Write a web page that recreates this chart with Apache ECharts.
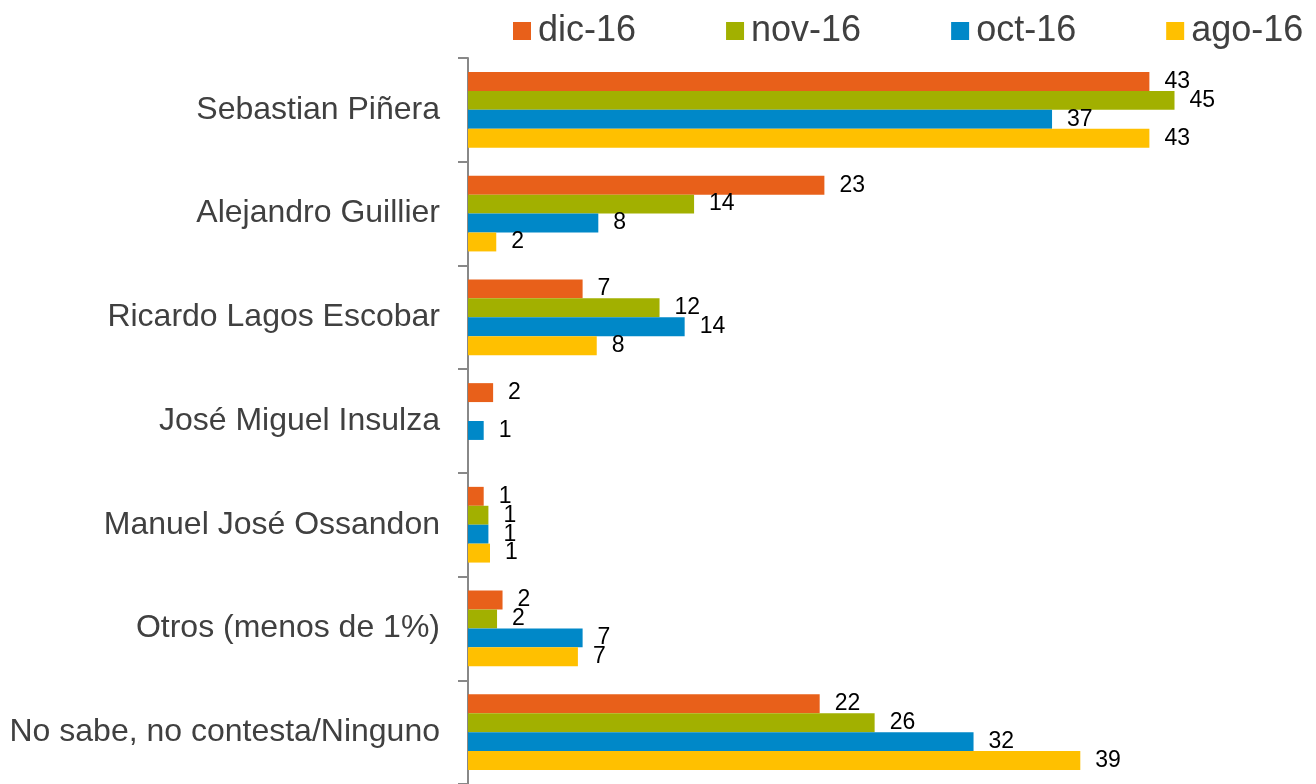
<!DOCTYPE html>
<html>
<head>
<meta charset="utf-8">
<script src="https://cdn.jsdelivr.net/npm/echarts@6/dist/echarts.min.js"></script>
<style>
  html, body { margin: 0; padding: 0; background: #fff; }
  #chart { width: 1316px; height: 784px; }
</style>
</head>
<body>
<div id="chart"></div>
<script>
var categorias = ['Sebastian Piñera', 'Alejandro Guillier', 'Ricardo Lagos Escobar',
  'José Miguel Insulza', 'Manuel José Ossandon', 'Otros (menos de 1%)', 'No sabe, no contesta/Ninguno'];
var meses = ['dic-16', 'nov-16', 'oct-16', 'ago-16'];
var colores = ['#E8601A', '#A2B000', '#0088C8', '#FFC000'];

// valores (la etiqueta muestra el entero)
var dic16 = [43.4, 22.7, 7.3, 1.6, 1.0, 2.2, 22.4];
var nov16 = [45.0, 14.4, 12.2, null, 1.3, 1.85, 25.9];
var oct16 = [37.2, 8.3, 13.8, 1.0, 1.3, 7.3, 32.2];
var ago16 = [43.4, 1.8, 8.2, null, 1.4, 7.0, 39.0];
var valores = [dic16, nov16, oct16, ago16];

var chart = echarts.init(document.getElementById('chart'));

var series = meses.map(function (m, i) {
  return {
    name: m,
    type: 'bar',
    data: valores[i],
    barGap: '0%',
    barCategoryGap: '27%',
    itemStyle: { color: colores[i] },
    label: {
      show: true,
      position: 'right',
      distance: 15,
      color: '#000',
      fontSize: 23,
      fontFamily: 'Liberation Sans',
      formatter: function (p) { return Math.round(p.value); }
    }
  };
});

var option = {
  animation: false,
  textStyle: { fontFamily: 'Liberation Sans' },
  legend: {
    data: meses,
    top: 8,
    left: 508,
    itemWidth: 18,
    itemHeight: 18,
    itemGap: 90,
    icon: 'rect',
    textStyle: { fontSize: 36, color: '#404040', padding: [0, 0, 0, 2] }
  },
  grid: { left: 468, top: 58, width: 785, height: 728 },
  xAxis: {
    type: 'value',
    min: 0,
    max: 50,
    show: false
  },
  yAxis: {
    type: 'category',
    inverse: true,
    data: categorias,
    axisLine: { show: true, lineStyle: { color: '#888', width: 2 } },
    axisTick: { show: true, length: 10, lineStyle: { color: '#888', width: 2 } },
    axisLabel: { fontSize: 32, color: '#404040', margin: 28 }
  },
  series: series
};

chart.setOption(option);
</script>
</body>
</html>
